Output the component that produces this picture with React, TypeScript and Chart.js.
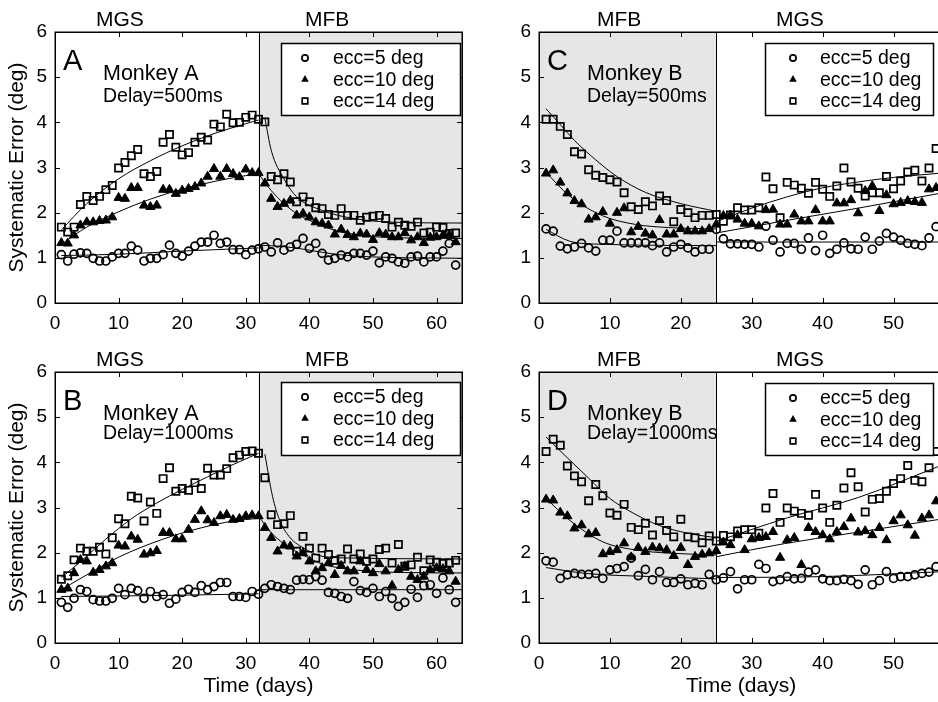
import React, { useEffect, useRef } from "react";
import { Chart, registerables } from "chart.js";
Chart.register(...registerables);

const FONT = '"Liberation Sans", Arial, Helvetica, sans-serif';

// ---------- tick labels / categories ----------
const X_TICKS_AB = [0, 10, 20, 30, 40, 50, 60];
const X_TICKS_CD = [0, 10, 20, 30, 40, 50];
const Y_TICKS = [0, 1, 2, 3, 4, 5, 6];
const LEGEND_LABELS = ["ecc=5 deg", "ecc=10 deg", "ecc=14 deg"];

// ---------- Panel A (Monkey A, delay 500 ms), days 1..63 ----------
const A_circle = [
  1.07, 0.93, 1.08, 1.11, 1.1, 0.99, 0.93, 0.93, 1.02, 1.1,
  1.1, 1.26, 1.17, 0.93, 0.99, 0.99, 1.07, 1.28, 1.1, 1.04,
  1.15, 1.26, 1.35, 1.35, 1.5, 1.32, 1.35, 1.18, 1.18, 1.07,
  1.17, 1.2, 1.24, 1.13, 1.33, 1.17, 1.24, 1.3, 1.43, 1.21,
  1.32, 1.1, 0.95, 0.99, 1.06, 1.02, 1.1, 1.1, 1.06, 1.15,
  0.89, 1.02, 0.99, 0.91, 0.88, 1.02, 1.04, 0.91, 1.02, 1.02,
  1.15, 1.32, 0.84,
];
const A_triangle = [
  1.33, 1.32, 1.5, 1.72, 1.79, 1.79, 1.82, 1.83, 1.9, 2.33,
  2.31, 2.55, 2.55, 2.16, 2.13, 2.16, 2.51, 2.51, 2.42, 2.49,
  2.53, 2.57, 2.65, 2.8, 2.97, 2.8, 2.97, 2.86, 2.79, 2.96,
  2.88, 2.88, 2.65, 2.31, 2.13, 2.2, 2.27, 1.94, 1.98, 1.9,
  1.79, 1.76, 1.72, 1.52, 1.63, 1.51, 1.46, 1.54, 1.52, 1.4,
  1.55, 1.52, 1.46, 1.46, 1.55, 1.39, 1.46, 1.33, 1.45, 1.46,
  1.5, 1.5, 1.35,
];
const A_square = [
  1.68, 1.57, 1.68, 2.18, 2.36, 2.27, 2.36, 2.51, 2.6, 2.99,
  3.11, 3.26, 3.4, 2.86, 2.8, 2.91, 3.56, 3.73, 3.45, 3.28,
  3.33, 3.56, 3.67, 3.61, 3.96, 3.9, 4.18, 3.99, 4.0, 4.11,
  4.16, 4.07, 4.01, 2.8, 2.73, 2.86, 2.68, 2.24, 2.35, 2.24,
  2.11, 2.09, 1.96, 1.94, 2.09, 1.94, 1.94, 1.83, 1.9, 1.92,
  1.94, 1.87, 1.68, 1.79, 1.72, 1.7, 1.79, 1.55, 1.57, 1.68,
  1.67, 1.54, 1.55,
];
const A_fit_circle_1 = [[1, 1.05], [10, 1.08], [20, 1.15], [32, 1.22]];
const A_fit_circle_2 = [[32, 1.28], [36, 1.25], [40, 1.17], [44, 1.08], [50, 1.02], [64, 0.99]];
const A_fit_triangle_1 = [[1, 1.3], [5, 1.68], [10, 2.02], [15, 2.3], [20, 2.52], [25, 2.69], [30, 2.82], [32, 2.86]];
const A_fit_triangle_2 = [[32, 2.86], [34, 2.49], [36, 2.2], [38, 1.98], [40, 1.83], [44, 1.61], [48, 1.5], [55, 1.44], [64, 1.43]];
const A_fit_square_1 = [[1, 1.62], [5, 2.2], [10, 2.75], [15, 3.15], [20, 3.48], [25, 3.75], [30, 3.97], [32, 4.05]];
const A_fit_square_2 = [[33, 4.1], [34, 3.38], [36, 2.75], [38, 2.35], [42, 2.05], [47, 1.87], [53, 1.79], [64, 1.77]];

// ---------- Panel B (Monkey A, delay 1000 ms), days 1..63 ----------
const B_circle = [
  0.9, 0.79, 0.99, 1.18, 1.14, 0.96, 0.93, 0.93, 0.99, 1.21,
  1.07, 1.21, 1.16, 0.99, 1.14, 1.03, 1.07, 0.88, 0.97, 1.12,
  1.19, 1.12, 1.27, 1.18, 1.25, 1.34, 1.34, 1.03, 1.03, 1.01,
  1.14, 1.08, 1.21, 1.29, 1.25, 1.21, 1.18, 1.39, 1.41, 1.4,
  1.47, 1.39, 1.12, 1.1, 1.03, 0.99, 1.36, 1.16, 1.12, 1.21,
  1.03, 1.14, 0.99, 0.81, 0.9, 1.19, 1.01, 1.27, 1.29, 1.1,
  1.44, 1.18, 0.9,
];
const B_triangle = [
  1.18, 1.21, 1.55, 1.84, 1.81, 1.56, 1.62, 1.7, 1.77, 2.16,
  2.14, 2.36, 2.29, 1.96, 1.99, 2.04, 2.44, 2.44, 2.3, 2.3,
  2.51, 2.73, 2.92, 2.72, 2.66, 2.81, 2.84, 2.73, 2.75, 2.81,
  2.83, 2.81, 2.55, 2.33, 2.03, 2.16, 2.14, 1.92, 1.99, 1.81,
  1.59, 1.66, 1.77, 1.51, 1.71, 1.59, 1.59, 1.81, 1.62, 1.55,
  1.75, 1.59, 1.27, 1.62, 1.7, 1.47, 1.4, 1.47, 1.62, 1.66,
  1.64, 1.59, 1.36,
];
const B_square = [
  1.41, 1.49, 1.84, 2.1, 2.03, 2.03, 2.12, 1.97, 2.33, 2.75,
  2.64, 3.25, 3.21, 2.7, 3.12, 2.87, 3.64, 3.88, 3.36, 3.42,
  3.38, 3.55, 3.42, 3.87, 3.72, 3.72, 3.86, 4.1, 4.16, 4.24,
  4.25, 4.2, 3.66, 2.84, 2.62, 2.64, 2.82, 2.03, 2.36, 2.1,
  1.88, 2.1, 1.96, 1.83, 1.86, 2.08, 1.86, 1.97, 1.81, 1.86,
  2.07, 2.1, 1.77, 2.18, 1.7, 1.73, 1.9, 1.6, 1.84, 1.79,
  1.76, 1.77, 1.83,
];
const B_fit_circle_1 = [[1, 1.03], [16, 1.05], [32, 1.09]];
const B_fit_circle_2 = [[32, 1.18], [64, 1.18]];
const B_fit_triangle_1 = [[1, 1.18], [5, 1.51], [10, 1.9], [17, 2.3], [23, 2.55], [28, 2.7], [32, 2.76]];
const B_fit_triangle_2 = [[32, 2.81], [34, 2.44], [37, 2.1], [40, 1.88], [42, 1.75], [47, 1.62], [55, 1.56], [64, 1.55]];
const B_fit_square_1 = [[1, 1.45], [4, 1.8], [8, 2.3], [12, 2.75], [16, 3.1], [20, 3.4], [24, 3.68], [28, 3.95], [32, 4.2]];
const B_fit_square_2 = [[33, 4.18], [34.2, 3.25], [35.3, 2.73], [36.8, 2.36], [39.5, 2.07], [42, 1.92], [47, 1.88], [64, 1.86]];

// ---------- Panel C (Monkey B, delay 500 ms), days 1..56 ----------
const C_circle = [
  1.64, 1.59, 1.26, 1.2, 1.24, 1.32, 1.22, 1.15, 1.39, 1.39,
  1.59, 1.33, 1.33, 1.33, 1.33, 1.27, 1.33, 1.13, 1.24, 1.3,
  1.22, 1.13, 1.19, 1.19, 1.63, 1.42, 1.31, 1.31, 1.3, 1.3,
  1.24, 1.7, 1.39, 1.13, 1.32, 1.32, 1.19, 1.44, 1.16, 1.5,
  1.1, 1.19, 1.33, 1.2, 1.19, 1.46, 1.19, 1.37, 1.54, 1.46,
  1.39, 1.32, 1.3, 1.27, 1.44, 1.69,
];
const C_triangle = [
  2.87, 2.94, 2.67, 2.43, 2.26, 2.19, 1.85, 1.9, 2.02, 1.76,
  2.0, 2.1, 1.57, 1.69, 1.54, 1.5, 1.84, 1.52, 1.52, 1.64,
  1.59, 1.59, 1.59, 1.64, 1.74, 1.93, 1.94, 1.85, 1.76, 1.76,
  1.7, 2.06, 2.07, 1.74, 1.74, 1.96, 1.81, 1.81, 2.06, 1.81,
  1.81, 2.21, 2.21, 2.28, 1.99, 2.48, 2.59, 2.04, 2.39, 2.19,
  2.22, 2.26, 2.24, 2.22, 2.52, 2.55,
];
const C_square = [
  4.07, 4.07, 3.91, 3.73, 3.35, 3.3, 2.95, 2.83, 2.78, 2.73,
  2.68, 2.44, 2.13, 2.07, 2.24, 2.15, 2.37, 2.27, 1.8, 2.07,
  2.0, 1.89, 1.94, 1.94, 1.96, 1.81, 1.95, 2.11, 2.06, 2.06,
  2.11, 2.79, 2.53, 1.89, 2.67, 2.61, 2.54, 2.43, 2.67, 2.52,
  2.36, 2.59, 2.99, 2.68, 2.54, 2.37, 2.44, 2.44, 2.8, 2.53,
  2.7, 2.9, 2.94, 2.7, 2.99, 3.42,
];
const C_fit_circle_1 = [[1, 1.63], [4.3, 1.37], [9, 1.3], [25, 1.27]];
const C_fit_circle_2 = [[25, 1.35], [57, 1.35]];
const C_fit_triangle_1 = [[1, 2.89], [4.3, 2.37], [9, 1.93], [13.6, 1.74], [18.3, 1.67], [25, 1.64]];
const C_fit_triangle_2 = [[25, 1.55], [35, 1.83], [45, 2.1], [57, 2.44]];
const C_fit_square_1 = [[1, 4.3], [3, 3.95], [5, 3.6], [8, 3.17], [11, 2.8], [15, 2.45], [20, 2.2], [25, 2.03]];
const C_fit_square_2 = [[25, 1.8], [30, 2.1], [35, 2.35], [40, 2.55], [45, 2.68], [50, 2.78], [57, 2.88]];

// ---------- Panel D (Monkey B, delay 1000 ms), days 1..56 ----------
const D_circle = [
  1.82, 1.79, 1.43, 1.51, 1.54, 1.52, 1.52, 1.54, 1.43, 1.62,
  1.65, 1.69, 1.88, 1.49, 1.63, 1.4, 1.58, 1.34, 1.34, 1.42,
  1.29, 1.32, 1.29, 1.52, 1.4, 1.44, 1.58, 1.2, 1.4, 1.4,
  1.74, 1.65, 1.36, 1.4, 1.47, 1.42, 1.43, 1.57, 1.62, 1.42,
  1.38, 1.38, 1.41, 1.38, 1.3, 1.62, 1.29, 1.38, 1.58, 1.43,
  1.47, 1.47, 1.51, 1.54, 1.57, 1.69,
];
const D_triangle = [
  3.18, 3.16, 2.89, 2.81, 2.54, 2.61, 2.41, 2.44, 1.97, 2.02,
  2.06, 2.21, 1.9, 2.11, 2.02, 2.12, 2.1, 2.06, 1.93, 2.11,
  1.73, 1.91, 1.96, 1.99, 2.04, 2.23, 2.17, 2.39, 2.06, 2.3,
  2.33, 2.35, 2.46, 1.89, 2.28, 2.33, 1.73, 2.55, 2.46, 2.39,
  2.3, 2.46, 2.57, 2.76, 2.45, 2.48, 2.39, 2.55, 2.28, 2.7,
  2.83, 2.61, 2.38, 2.76, 2.83, 3.14,
];
const D_square = [
  4.24, 4.51, 4.38, 3.92, 3.7, 3.57, 3.15, 3.51, 3.26, 2.88,
  2.83, 3.07, 2.56, 2.51, 2.65, 2.39, 2.71, 2.49, 2.35, 2.74,
  2.35, 2.33, 2.22, 2.37, 2.26, 2.38, 2.35, 2.48, 2.51, 2.51,
  2.43, 2.99, 3.31, 2.67, 2.99, 2.92, 2.87, 2.83, 3.29, 2.99,
  2.67, 3.05, 3.43, 3.77, 3.46, 2.9, 3.18, 3.2, 3.36, 3.53,
  3.64, 3.93, 3.6, 3.57, 3.88, 4.24,
];
const D_fit_circle_1 = [[1, 1.67], [6.6, 1.54], [16, 1.47], [25, 1.42]];
const D_fit_circle_2 = [[25, 1.45], [40, 1.47], [57, 1.58]];
const D_fit_triangle_1 = [[1, 3.2], [4.3, 2.72], [9, 2.24], [13.6, 2.06], [18.3, 1.99], [25, 1.95]];
const D_fit_triangle_2 = [[25, 1.91], [34.6, 2.2], [44, 2.43], [57, 2.75]];
const D_fit_square_1 = [[1, 4.56], [4, 4.1], [7, 3.65], [10, 3.2], [13, 2.9], [17, 2.6], [21, 2.43], [25, 2.33]];
const D_fit_square_2 = [[25, 2.25], [35, 2.77], [45, 3.22], [57, 3.95]];

// ---------- panel configuration ----------
interface PanelCfg {
  letter: string;
  monkey: string;
  delay: string;
  cx: number; cy: number; cw: number; ch: number;
  padTop: number; padRight: number; yW: number; xH: number;
  xMax: number; xTicks: number[];
  shade: number[]; boundary: number;
  phase: { text: string; day: number }[];
  circle: number[]; triangle: number[]; square: number[];
  fits: number[][][];
  yTitle: boolean; xTitle: boolean;
  lg: { dx: number; dy: number; w: number; h: number; mx: number; tx: number };
  textDy: number;
}

const PANELS: PanelCfg[] = [
  {
    letter: "A", monkey: "Monkey A", delay: "Delay=500ms",
    cx: 0, cy: 0, cw: 470, ch: 340, padTop: 32, padRight: 8, yW: 55, xH: 37,
    xMax: 64, xTicks: X_TICKS_AB, shade: [32, 64], boundary: 32,
    phase: [{ text: "MGS", day: 10.2 }, { text: "MFB", day: 42.8 }],
    circle: A_circle, triangle: A_triangle, square: A_square,
    fits: [A_fit_circle_1, A_fit_circle_2, A_fit_triangle_1, A_fit_triangle_2, A_fit_square_1, A_fit_square_2],
    yTitle: true, xTitle: false,
    lg: { dx: 226, dy: 11, w: 179, h: 72, mx: 24, tx: 52 }, textDy: 70,
  },
  {
    letter: "B", monkey: "Monkey A", delay: "Delay=1000ms",
    cx: 0, cy: 340, cw: 470, ch: 362, padTop: 32, padRight: 8, yW: 55, xH: 59,
    xMax: 64, xTicks: X_TICKS_AB, shade: [32, 64], boundary: 32,
    phase: [{ text: "MGS", day: 10.2 }, { text: "MFB", day: 42.8 }],
    circle: B_circle, triangle: B_triangle, square: B_square,
    fits: [B_fit_circle_1, B_fit_circle_2, B_fit_triangle_1, B_fit_triangle_2, B_fit_square_1, B_fit_square_2],
    yTitle: true, xTitle: true,
    lg: { dx: 226, dy: 10, w: 179, h: 73, mx: 24, tx: 52 }, textDy: 67,
  },
  {
    letter: "C", monkey: "Monkey B", delay: "Delay=500ms",
    cx: 470, cy: 0, cw: 480, ch: 340, padTop: 32, padRight: 4, yW: 69, xH: 37,
    xMax: 57, xTicks: X_TICKS_CD, shade: [0, 25], boundary: 25,
    phase: [{ text: "MFB", day: 11.3 }, { text: "MGS", day: 36.8 }],
    circle: C_circle, triangle: C_triangle, square: C_square,
    fits: [C_fit_circle_1, C_fit_circle_2, C_fit_triangle_1, C_fit_triangle_2, C_fit_square_1, C_fit_square_2],
    yTitle: false, xTitle: false,
    lg: { dx: 226, dy: 11, w: 168, h: 72, mx: 28, tx: 55 }, textDy: 70,
  },
  {
    letter: "D", monkey: "Monkey B", delay: "Delay=1000ms",
    cx: 470, cy: 340, cw: 480, ch: 362, padTop: 32, padRight: 4, yW: 69, xH: 59,
    xMax: 57, xTicks: X_TICKS_CD, shade: [0, 25], boundary: 25,
    phase: [{ text: "MFB", day: 11.3 }, { text: "MGS", day: 36.8 }],
    circle: D_circle, triangle: D_triangle, square: D_square,
    fits: [D_fit_circle_1, D_fit_circle_2, D_fit_triangle_1, D_fit_triangle_2, D_fit_square_1, D_fit_square_2],
    yTitle: false, xTitle: true,
    lg: { dx: 226, dy: 11, w: 168, h: 72, mx: 28, tx: 55 }, textDy: 67,
  },
];

const toPts = (vals: number[]) => vals.map((v, i) => ({ x: i + 1, y: v }));
const toLine = (pairs: number[][]) => pairs.map(([x, y]) => ({ x, y }));

function drawMarker(ctx: CanvasRenderingContext2D, kind: number, x: number, y: number) {
  ctx.save();
  ctx.strokeStyle = "#000";
  ctx.fillStyle = "#000";
  ctx.lineWidth = 1.7;
  ctx.beginPath();
  if (kind === 0) {
    ctx.arc(x, y, 3.1, 0, Math.PI * 2);
    ctx.stroke();
  } else if (kind === 1) {
    const r = 4.4;
    ctx.moveTo(x, y - r);
    ctx.lineTo(x + r * 0.866, y + r * 0.5);
    ctx.lineTo(x - r * 0.866, y + r * 0.5);
    ctx.closePath();
    ctx.fill();
  } else {
    ctx.rect(x - 2.8, y - 2.8, 5.6, 5.6);
    ctx.stroke();
  }
  ctx.restore();
}

function makePlugin(cfg: PanelCfg) {
  return {
    id: "panelDeco" + cfg.letter,
    beforeDatasetsDraw(chart: any) {
      const { ctx, chartArea: a, scales } = chart;
      const x = scales.x;
      ctx.save();
      const s0 = x.getPixelForValue(cfg.shade[0]);
      const s1 = x.getPixelForValue(cfg.shade[1]);
      ctx.fillStyle = "#e6e6e6";
      ctx.fillRect(s0, a.top, s1 - s0, a.bottom - a.top);
      const bx = Math.round(x.getPixelForValue(cfg.boundary)) + 0.5;
      ctx.strokeStyle = "#000";
      ctx.lineWidth = 1;
      ctx.beginPath();
      ctx.moveTo(bx, a.top);
      ctx.lineTo(bx, a.bottom);
      ctx.stroke();
      ctx.restore();
    },
    afterDatasetsDraw(chart: any) {
      const { ctx, chartArea: a, scales } = chart;
      const x = scales.x;
      const y = scales.y;
      ctx.save();
      // frame
      ctx.strokeStyle = "#000";
      ctx.lineWidth = 1.5;
      ctx.strokeRect(Math.round(a.left) + 0.25, Math.round(a.top) + 0.25, Math.round(a.right - a.left), Math.round(a.bottom - a.top));
      // inward ticks
      ctx.lineWidth = 1;
      const tl = 5;
      ctx.beginPath();
      cfg.xTicks.forEach((v) => {
        const px = Math.round(x.getPixelForValue(v)) + 0.5;
        ctx.moveTo(px, a.bottom);
        ctx.lineTo(px, a.bottom - tl);
        ctx.moveTo(px, a.top);
        ctx.lineTo(px, a.top + tl);
      });
      Y_TICKS.forEach((v) => {
        const py = Math.round(y.getPixelForValue(v)) + 0.5;
        ctx.moveTo(a.left, py);
        ctx.lineTo(a.left + tl, py);
        ctx.moveTo(a.right, py);
        ctx.lineTo(a.right - tl, py);
      });
      ctx.stroke();

      // legend
      const lx = a.left + cfg.lg.dx;
      const ly = a.top + cfg.lg.dy;
      ctx.fillStyle = "#fff";
      ctx.fillRect(lx, ly, cfg.lg.w, cfg.lg.h);
      ctx.strokeStyle = "#000";
      ctx.lineWidth = 1.5;
      ctx.strokeRect(lx + 0.5, ly + 0.5, cfg.lg.w, cfg.lg.h);
      const rows = [15, 36.5, 58];
      ctx.font = `19.5px ${FONT}`;
      ctx.textBaseline = "middle";
      ctx.textAlign = "left";
      LEGEND_LABELS.forEach((lab, i) => {
        drawMarker(ctx, i, lx + cfg.lg.mx, ly + rows[i]);
        ctx.fillStyle = "#000";
        ctx.fillText(lab, lx + cfg.lg.tx, ly + rows[i] + 1);
      });

      // panel texts
      ctx.fillStyle = "#000";
      ctx.textBaseline = "alphabetic";
      ctx.font = `29px ${FONT}`;
      ctx.fillText(cfg.letter, a.left + 8, a.top + 38);
      ctx.font = `21.5px ${FONT}`;
      ctx.fillText(cfg.monkey, a.left + 48, a.top + 48);
      ctx.font = `19.5px ${FONT}`;
      ctx.fillText(cfg.delay, a.left + 48, a.top + cfg.textDy);

      // phase labels above the axes
      ctx.font = `21px ${FONT}`;
      ctx.textAlign = "center";
      ctx.textBaseline = "middle";
      cfg.phase.forEach((p) => {
        ctx.fillText(p.text, x.getPixelForValue(p.day), a.top - 12);
      });
      ctx.restore();
    },
  };
}

function Panel({ cfg }: { cfg: PanelCfg }) {
  const ref = useRef<HTMLCanvasElement>(null);
  useEffect(() => {
    const canvas = ref.current;
    if (!canvas) return;
    const pointBase = { showLine: false, clip: false as any, borderColor: "#000" };
    const fitStyle = {
      showLine: true,
      pointRadius: 0,
      borderColor: "#000",
      borderWidth: 1,
      cubicInterpolationMode: "monotone" as const,
      fill: false,
    };
    const datasets: any[] = [
      {
        ...pointBase,
        label: LEGEND_LABELS[0],
        data: toPts(cfg.circle),
        pointStyle: "circle",
        pointRadius: 4,
        pointBorderWidth: 1.7,
        pointBackgroundColor: "rgba(0,0,0,0)",
        pointBorderColor: "#000",
      },
      {
        ...pointBase,
        label: LEGEND_LABELS[1],
        data: toPts(cfg.triangle),
        pointStyle: "triangle",
        pointRadius: 5.3,
        pointBorderWidth: 1,
        pointBackgroundColor: "#000",
        pointBorderColor: "#000",
      },
      {
        ...pointBase,
        label: LEGEND_LABELS[2],
        data: toPts(cfg.square),
        pointStyle: "rect",
        pointRadius: 5.1,
        pointBorderWidth: 1.7,
        pointBackgroundColor: "rgba(0,0,0,0)",
        pointBorderColor: "#000",
      },
      ...cfg.fits.map((f, i) => ({ ...fitStyle, label: "fit" + i, data: toLine(f) })),
    ];
    const tickFont = { family: FONT, size: 19 };
    const chart = new Chart(canvas, {
      type: "scatter",
      data: { datasets },
      options: {
        animation: false,
        responsive: false,
        events: [],
        layout: { padding: { left: 0, top: cfg.padTop, right: cfg.padRight, bottom: 0 } },
        plugins: { legend: { display: false }, tooltip: { enabled: false } },
        scales: {
          x: {
            type: "linear",
            min: 0,
            max: cfg.xMax,
            grid: { display: false, drawTicks: false },
            border: { display: false },
            ticks: { padding: 9, color: "#000", font: tickFont },
            afterBuildTicks: (s: any) => {
              s.ticks = cfg.xTicks.map((v) => ({ value: v }));
            },
            afterFit: (s: any) => {
              s.height = cfg.xH;
            },
            title: {
              display: cfg.xTitle,
              text: "Time (days)",
              color: "#000",
              font: { family: FONT, size: 21 },
              padding: { top: 0, bottom: 3 },
            },
          },
          y: {
            type: "linear",
            min: 0,
            max: 6,
            grid: { display: false, drawTicks: false },
            border: { display: false },
            ticks: { padding: 8, color: "#000", font: tickFont },
            afterBuildTicks: (s: any) => {
              s.ticks = Y_TICKS.map((v) => ({ value: v }));
            },
            afterFit: (s: any) => {
              s.width = cfg.yW;
            },
            title: {
              display: cfg.yTitle,
              text: "Systematic Error (deg)",
              color: "#000",
              font: { family: FONT, size: 21 },
              padding: { top: 5, bottom: 0 },
            },
          },
        },
      } as any,
      plugins: [makePlugin(cfg)],
    });
    return () => chart.destroy();
  }, [cfg]);
  return (
    <canvas
      ref={ref}
      width={cfg.cw}
      height={cfg.ch}
      style={{ position: "absolute", left: cfg.cx, top: cfg.cy, width: cfg.cw, height: cfg.ch, display: "block" }}
    />
  );
}

export default function App() {
  return (
    <div
      style={{
        position: "fixed",
        left: 0,
        top: 0,
        width: 938,
        height: 702,
        overflow: "hidden",
        background: "#fff",
      }}
    >
      {PANELS.map((p) => (
        <Panel key={p.letter} cfg={p} />
      ))}
    </div>
  );
}
